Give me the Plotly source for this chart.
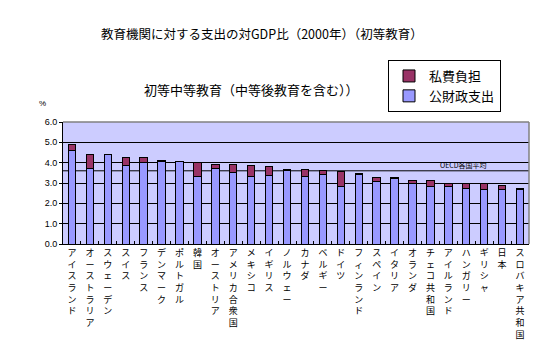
import plotly.graph_objects as go

countries = ["アイスランド", "オーストラリア", "スウェーデン", "スイス", "フランス", "デンマーク",
             "ポルトガル", "韓国", "オーストリア", "アメリカ合衆国", "メキシコ", "イギリス",
             "ノルウェー", "カナダ", "ベルギー", "ドイツ", "フィンランド", "スペイン", "イタリア",
             "オランダ", "チェコ共和国", "アイルランド", "ハンガリー", "ギリシャ", "日本",
             "スロバキア共和国"]
public = [4.6, 3.7, 4.4, 3.85, 4.03, 4.08, 4.08, 3.3, 3.7, 3.5, 3.3, 3.35,
          3.6, 3.34, 3.4, 2.85, 3.44, 3.05, 3.2, 3.0, 2.85, 2.85, 2.75, 2.7, 2.66, 2.7]
private = [0.28, 0.7, 0.0, 0.39, 0.2, 0.05, 0.0, 0.73, 0.2, 0.4, 0.54, 0.45,
           0.04, 0.3, 0.2, 0.74, 0.05, 0.2, 0.05, 0.1, 0.25, 0.15, 0.25, 0.3, 0.24, 0.05]
oecd_avg = 3.6
y_ticks = [0, 1, 2, 3, 4, 5, 6]

FONT = "Noto Sans CJK JP"
labels = ["<br>".join(list(c)) for c in countries]

fig = go.Figure()
fig.add_trace(go.Bar(x=labels, y=public, name="公財政支出",
                     marker=dict(color="#9999FF", line=dict(color="black", width=1))))
fig.add_trace(go.Bar(x=labels, y=private, name="私費負担",
                     marker=dict(color="#993366", line=dict(color="black", width=1))))

L, R, T, B = 63, 529, 122, 244
W, H = 560, 350

def px_x(p):
    return (p - L) / (R - L)

def px_y(p):
    return (B - p) / (B - T)

fig.update_layout(
    width=W, height=H,
    margin=dict(l=L, r=W - R, t=T, b=H - B, pad=0, autoexpand=False),
    barmode="stack", bargap=0.59,
    paper_bgcolor="white", plot_bgcolor="#CCCCFF",
    font=dict(family=FONT, color="black"),
    showlegend=True,
    legend=dict(x=px_x(388), y=px_y(60), xanchor="left", yanchor="top",
                traceorder="reversed", bordercolor="black", borderwidth=1,
                bgcolor="white", font=dict(size=13, family=FONT),
                itemwidth=30, tracegroupgap=0),
    xaxis=dict(type="category", showline=True, linecolor="black", linewidth=1,
               ticks="inside", ticklen=3, tickcolor="black", tickson="boundaries",
               tickangle=0, tickfont=dict(size=9, family=FONT), showgrid=False,
               fixedrange=True, automargin=False),
    yaxis=dict(range=[0, 6], tickvals=y_ticks, tickformat=".1f", showline=True,
               linecolor="black", linewidth=1, ticks="outside", ticklen=3,
               tickcolor="black", gridcolor="black", gridwidth=1,
               tickfont=dict(size=9, family="Liberation Sans"), zeroline=False,
               automargin=False),
)

# OECD average line (between gridlines and bars)
fig.add_shape(type="line", xref="paper", yref="y", x0=0, x1=1, y0=oecd_avg, y1=oecd_avg,
              line=dict(color="black", width=1), layer="between")
# gray top/right border
fig.add_shape(type="line", xref="paper", yref="paper", x0=0, x1=1, y0=1, y1=1,
              line=dict(color="#808080", width=1.5))
fig.add_shape(type="line", xref="paper", yref="paper", x0=1, x1=1, y0=0, y1=1,
              line=dict(color="#808080", width=1.5))

fig.add_annotation(text="OECD各国平均", xref="paper", yref="y", x=px_x(489), y=oecd_avg,
                   yanchor="bottom", yshift=-1, showarrow=False,
                   font=dict(size=7, family=FONT))
fig.add_annotation(text="教育機関に対する支出の対GDP比（2000年）（初等教育）",
                   xref="paper", yref="paper", x=px_x(262), y=px_y(33),
                   xanchor="center", yanchor="middle", showarrow=False,
                   font=dict(size=12.5, family=FONT))
fig.add_annotation(text="初等中等教育（中等後教育を含む））",
                   xref="paper", yref="paper", x=px_x(251), y=px_y(89),
                   xanchor="center", yanchor="middle", showarrow=False,
                   font=dict(size=13, family=FONT))
fig.add_annotation(text="%", xref="paper", yref="paper", x=px_x(42), y=px_y(103),
                   xanchor="center", yanchor="middle", showarrow=False,
                   font=dict(size=8, family="Liberation Sans"))

fig.write_html("out.html")
